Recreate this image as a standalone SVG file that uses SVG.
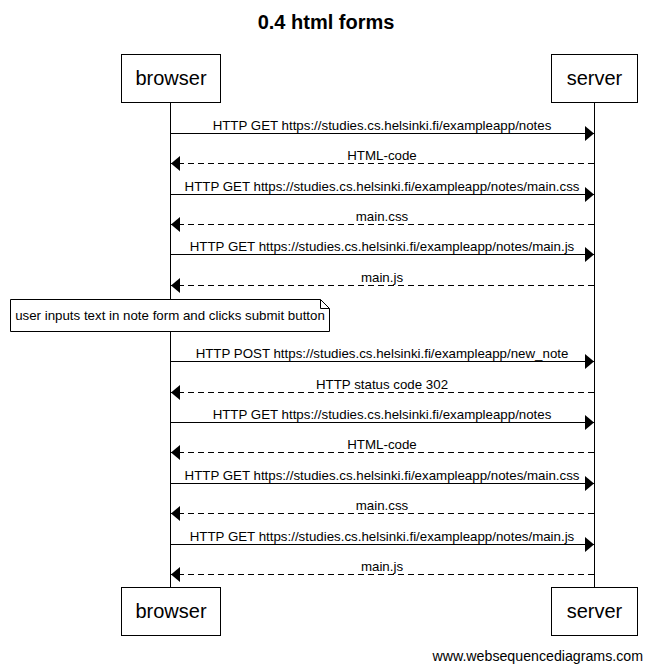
<svg xmlns="http://www.w3.org/2000/svg" width="652" height="670" viewBox="0 0 652 670">
<defs>
<marker id="ah" markerWidth="10" markerHeight="16" refX="9" refY="7.5" orient="auto" markerUnits="userSpaceOnUse">
<path d="M0,0 L9,7.5 L0,15 Z" fill="#000"/>
</marker>
</defs>
<style>
text{font-family:"Liberation Sans",Arial,sans-serif;fill:#000}
.t{font-size:20px;font-weight:bold}
.p{font-size:20px}
.m{font-size:13.3px}
.box{fill:#fff;stroke:#000;stroke-width:1}
.life{stroke:#000;stroke-width:1}
.s{stroke:#000;stroke-width:1;fill:none;marker-end:url(#ah)}
.d{stroke:#000;stroke-width:1;fill:none;stroke-dasharray:6,4;marker-end:url(#ah)}
</style>
<rect width="652" height="670" fill="#fff"/>
<text class="t" x="326" y="29" text-anchor="middle">0.4 html forms</text>
<g id="lifelines">
<line class="life" x1="170.5" y1="102" x2="170.5" y2="588"/>
<line class="life" x1="594.5" y1="102" x2="594.5" y2="588"/>
</g>
<g id="browser">
<rect class="box" x="121.5" y="54.5" width="99" height="48"/>
<text class="p" x="171" y="85" text-anchor="middle">browser</text>
<rect class="box" x="121.5" y="587.5" width="99" height="48"/>
<text class="p" x="171" y="618" text-anchor="middle">browser</text>
</g>
<g id="server">
<rect class="box" x="551.5" y="54.5" width="86" height="48"/>
<text class="p" x="594.5" y="85" text-anchor="middle">server</text>
<rect class="box" x="551.5" y="587.5" width="86" height="48"/>
<text class="p" x="594.5" y="618" text-anchor="middle">server</text>
</g>
<g id="note">
<path class="box" d="M10.5,299.5 H320.5 L329.5,308.5 V331.5 H10.5 Z"/>
<path d="M320.5,299.5 V308.5 H329.5" fill="none" stroke="#000"/>
<text class="m" x="170" y="320" text-anchor="middle">user inputs text in note form and clicks submit button</text>
</g>
<g id="connectors">
<line class="s" x1="171" y1="133.5" x2="594" y2="133.5"/>
<text class="m" x="382" y="130" text-anchor="middle">HTTP GET https://studies.cs.helsinki.fi/exampleapp/notes</text>
<line class="d" x1="594" y1="163.5" x2="171" y2="163.5"/>
<text class="m" x="382" y="160" text-anchor="middle">HTML-code</text>
<line class="s" x1="171" y1="194.5" x2="594" y2="194.5"/>
<text class="m" x="382" y="191" text-anchor="middle">HTTP GET https://studies.cs.helsinki.fi/exampleapp/notes/main.css</text>
<line class="d" x1="594" y1="224.5" x2="171" y2="224.5"/>
<text class="m" x="382" y="221" text-anchor="middle">main.css</text>
<line class="s" x1="171" y1="254.5" x2="594" y2="254.5"/>
<text class="m" x="382" y="251" text-anchor="middle">HTTP GET https://studies.cs.helsinki.fi/exampleapp/notes/main.js</text>
<line class="d" x1="594" y1="285.5" x2="171" y2="285.5"/>
<text class="m" x="382" y="282" text-anchor="middle">main.js</text>
<line class="s" x1="171" y1="361.5" x2="594" y2="361.5"/>
<text class="m" x="382" y="358" text-anchor="middle">HTTP POST https://studies.cs.helsinki.fi/exampleapp/new_note</text>
<line class="d" x1="594" y1="392.5" x2="171" y2="392.5"/>
<text class="m" x="382" y="389" text-anchor="middle">HTTP status code 302</text>
<line class="s" x1="171" y1="422.5" x2="594" y2="422.5"/>
<text class="m" x="382" y="419" text-anchor="middle">HTTP GET https://studies.cs.helsinki.fi/exampleapp/notes</text>
<line class="d" x1="594" y1="452.5" x2="171" y2="452.5"/>
<text class="m" x="382" y="449" text-anchor="middle">HTML-code</text>
<line class="s" x1="171" y1="483.5" x2="594" y2="483.5"/>
<text class="m" x="382" y="480" text-anchor="middle">HTTP GET https://studies.cs.helsinki.fi/exampleapp/notes/main.css</text>
<line class="d" x1="594" y1="513.5" x2="171" y2="513.5"/>
<text class="m" x="382" y="510" text-anchor="middle">main.css</text>
<line class="s" x1="171" y1="544.5" x2="594" y2="544.5"/>
<text class="m" x="382" y="541" text-anchor="middle">HTTP GET https://studies.cs.helsinki.fi/exampleapp/notes/main.js</text>
<line class="d" x1="594" y1="574.5" x2="171" y2="574.5"/>
<text class="m" x="382" y="571" text-anchor="middle">main.js</text>
</g>
<text x="643" y="661" text-anchor="end" style="font-size:14.2px">www.websequencediagrams.com</text>
</svg>
